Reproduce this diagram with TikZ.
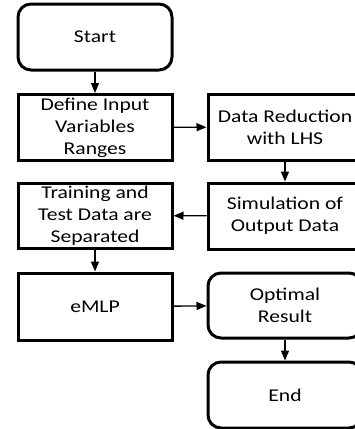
\documentclass[tikz,border=0pt]{standalone}
\usepackage{fontspec}
\setmainfont{Carlito}[FakeStretch=1.2]
\usetikzlibrary{arrows.meta}
\begin{document}
\begin{tikzpicture}[x=1pt,y=-1pt,
  box/.style={draw,line width=3pt,minimum width=154pt,minimum height=66pt,align=center,inner sep=0pt,font=\fontsize{18}{22}\selectfont},
  term/.style={box,rounded corners=13pt},
  conn/.style={line width=1.4pt,-{Triangle[length=10pt,width=8pt]}}]
\useasboundingbox (0,0) rectangle (355,429);
\clip (0,0) rectangle (355,429);
\node[term] (start) at (95,37) {Start};
\node[box] (define) at (95,127.5) {Define Input\\Variables\\Ranges};
\node[box] (reduce) at (285,127) {Data Reduction\\with LHS};
\node[box,minimum height=65pt] (train) at (95,215.5) {Training and\\Test Data are\\Separated};
\node[box] (sim) at (285,216) {Simulation of\\Output Data};
\node[box,minimum height=67pt] (emlp) at (95,306.5) {eMLP};
\node[term,minimum height=65pt] (opt) at (285,305.5) {Optimal\\Result};
\node[term] (end) at (285,395) {End};
\draw[conn] (start) -- (define);
\draw[conn] (define) -- (reduce);
\draw[conn] (reduce) -- (sim);
\draw[conn] (sim) -- (train);
\draw[conn] (train) -- (emlp);
\draw[conn] (emlp) -- (opt);
\draw[conn] (opt) -- (end);
\end{tikzpicture}
\end{document}
